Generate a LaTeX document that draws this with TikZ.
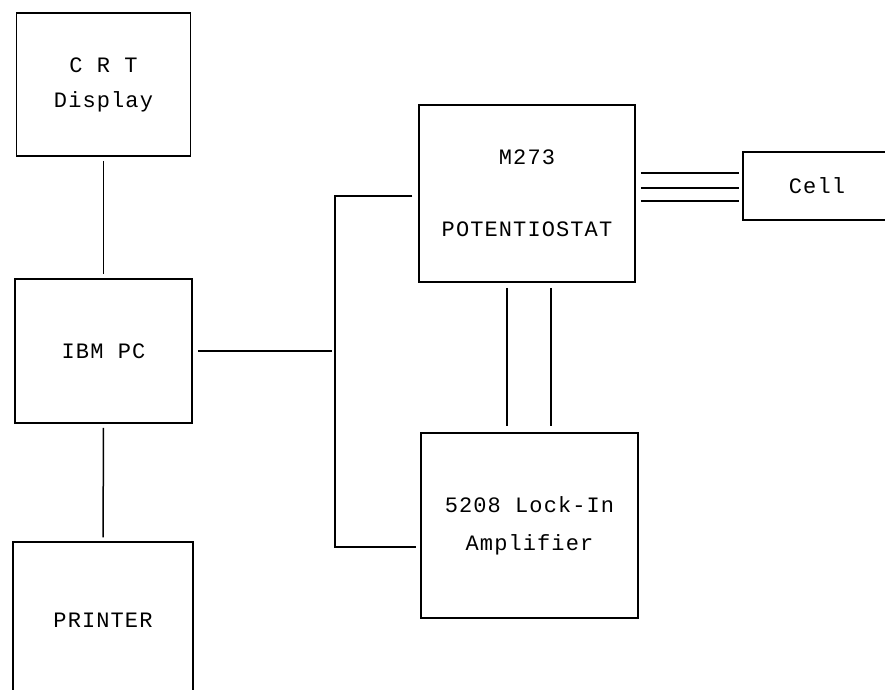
\documentclass[tikz,border=0pt]{standalone}
\usepackage{fontspec}
\newfontfamily\dotfont{Liberation Mono}[LetterSpace=5]
\usepackage{tikz}
\usetikzlibrary{positioning}
\usetikzlibrary{calc}

\begin{document}
\begin{tikzpicture}[x=1pt, y=-1pt,
        unit/.style = {draw, line width = 1.5pt, inner sep = 0, align = center,
                       font = \dotfont\fontsize{22}{26}\selectfont},
        wire/.style = {line width = 1.5pt}]

        \useasboundingbox (0,0) rectangle (885,689);

        % Define the units
        \node[unit, minimum width = 174, minimum height = 143] (crt) at (103.5,84.5) {C R T\\[9pt]Display};
        \node[unit, minimum width = 177, minimum height = 144] (pc) at (103.5,351) {IBM PC};
        \node[unit, minimum width = 180, minimum height = 156] (printer) at (103,620) {PRINTER};
        \node[unit, minimum width = 216, minimum height = 177] (pstat) at (527,193.5) {M273\\[46pt]POTENTIOSTAT};
        \node[unit, minimum width = 217, minimum height = 185] (lockin) at (529.5,525.5) {5208 Lock-In\\[12pt]Amplifier};
        \node[unit, minimum width = 148, minimum height = 68] (cell) at (817,186) {Cell};

        % Bus on the left of the instruments
        \coordinate (bustop) at (335,196);
        \coordinate (busbot) at (335,547);

        \draw[wire, shorten <= 4pt, shorten >= 4pt] (crt) -- (pc);
        \draw[wire, shorten <= 4pt, shorten >= 4pt] (pc) -- (printer);
        \draw[wire, shorten <= 5pt, shorten >= 3pt] (pc.east) -- (pc.east -| bustop);
        \draw[wire, shorten <= 6pt, shorten >= 4pt] (bustop -| pstat.west) -- (bustop) -- (busbot) -- (busbot -| lockin.west);
        \foreach \dx in {-20,24}
            \draw[wire, shorten <= 5pt, shorten >= 6pt] ([xshift = \dx pt]pstat.south) -- ([xshift = \dx pt]pstat.south |- lockin.north);
        \foreach \dy in {13,-2,-15}
            \draw[wire, shorten <= 5pt, shorten >= 3pt] ([yshift = \dy pt]cell.west -| pstat.east) -- ([yshift = \dy pt]cell.west);
    \end{tikzpicture}
\end{document}
